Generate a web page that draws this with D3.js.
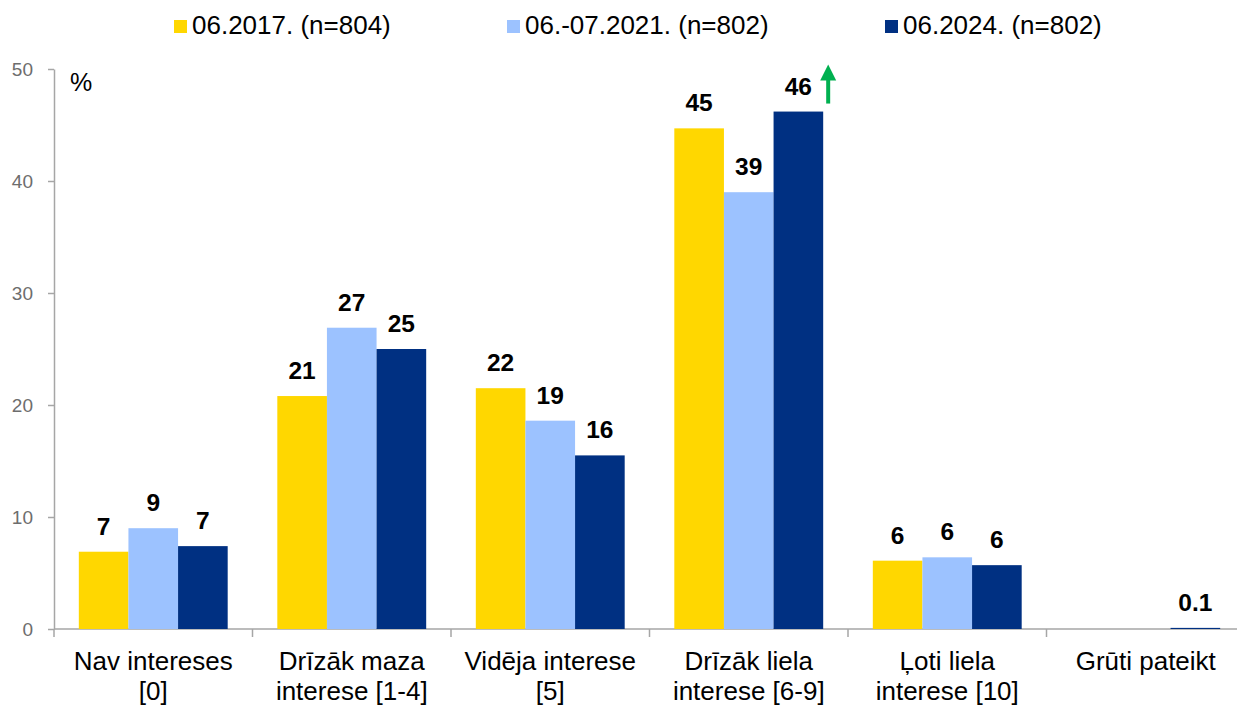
<!DOCTYPE html>
<html>
<head>
<meta charset="utf-8">
<script src="https://cdn.jsdelivr.net/npm/d3@7"></script>
<style>
  body { margin: 0; background: #fff; }
  text { font-family: Arial, "Liberation Sans", sans-serif; }
</style>
</head>
<body>
<div id="chart-area"></div>
<script>
// categories, series and values
var categories = [
    ['Nav intereses', '[0]'],
    ['Drīzāk maza', 'interese [1-4]'],
    ['Vidēja interese', '[5]'],
    ['Drīzāk liela', 'interese [6-9]'],
    ['Ļoti liela', 'interese [10]'],
    ['Grūti pateikt']
];
var seriesNames = ['06.2017. (n=804)', '06.-07.2021. (n=802)', '06.2024. (n=802)'];
var colors = ['#FFD700', '#9CC2FF', '#003082'];
var v2017 = [6.9, 20.8, 21.5, 44.7, 6.1, null];
var v2021 = [9.0, 26.9, 18.6, 39.0, 6.4, null];
var v2024 = [7.4, 25.0, 15.5, 46.2, 5.7, 0.1];
var labels2017 = ['7', '21', '22', '45', '6', ''];
var labels2021 = ['9', '27', '19', '39', '6', ''];
var labels2024 = ['7', '25', '16', '46', '6', '0.1'];
var yTicks = [0, 10, 20, 30, 40, 50];
var upArrowIndex = 3; // significant increase marker on 2024 bar

var series = [
    { name: seriesNames[0], values: v2017, labels: labels2017 },
    { name: seriesNames[1], values: v2021, labels: labels2021 },
    { name: seriesNames[2], values: v2024, labels: labels2024 }
];

var width = 1237, height = 706;

var svg = d3.select('#chart-area').append('svg')
    .attr('width', width)
    .attr('height', height);

var x0 = d3.scaleBand()
    .domain(d3.range(categories.length))
    .range([54, 1245])
    .paddingInner(0.25)
    .paddingOuter(0.125);

var x1 = d3.scaleBand()
    .domain(d3.range(series.length))
    .range([0, x0.bandwidth()]);

var y = d3.scaleLinear()
    .domain([0, 50])
    .range([629, 69]);

// Y axis
var yAxis = svg.append('g')
    .attr('transform', 'translate(54,0)')
    .call(d3.axisLeft(y).tickValues(yTicks).tickSize(6).tickPadding(15).tickSizeOuter(0));
yAxis.select('.domain').attr('stroke', '#a6a6a6').attr('stroke-width', 1.5);
yAxis.selectAll('.tick line').attr('stroke', '#a6a6a6').attr('stroke-width', 1.5);
yAxis.selectAll('.tick text')
    .attr('fill', '#6d6d6d')
    .style('font-size', '19px')
    .attr('dy', '0.35em');

svg.append('text')
    .attr('x', 70)
    .attr('y', 91)
    .style('font-size', '25px')
    .attr('fill', '#000')
    .text('%');

// X axis line and boundary ticks
svg.append('line')
    .attr('x1', 54).attr('x2', 1245)
    .attr('y1', y(0)).attr('y2', y(0))
    .attr('stroke', '#a6a6a6').attr('stroke-width', 1.5);

var step = x0.step();
svg.selectAll('.xtick')
    .data(d3.range(categories.length + 1))
    .enter().append('line')
    .attr('class', 'xtick')
    .attr('x1', d => 54 + d * step)
    .attr('x2', d => 54 + d * step)
    .attr('y1', y(0))
    .attr('y2', y(0) + 8)
    .attr('stroke', '#a6a6a6').attr('stroke-width', 1.5);

// Category labels
var catLabels = svg.selectAll('.cat')
    .data(categories)
    .enter().append('text')
    .attr('class', 'cat')
    .attr('text-anchor', 'middle')
    .style('font-size', '26px')
    .attr('fill', '#000');
catLabels.each(function (d, i) {
    var t = d3.select(this);
    d.forEach((line, j) => {
        t.append('tspan')
            .attr('x', x0(i) + x0.bandwidth() / 2)
            .attr('y', 670 + j * 30)
            .text(line);
    });
});

// Bars
var groups = svg.selectAll('.grp')
    .data(series)
    .enter().append('g')
    .attr('class', 'grp');

groups.each(function (s, si) {
    var g = d3.select(this);
    var pts = s.values.map((v, i) => ({ v: v, i: i, label: s.labels[i] }))
        .filter(d => d.v !== null);

    g.selectAll('rect')
        .data(pts)
        .enter().append('rect')
        .attr('x', d => x0(d.i) + x1(si))
        .attr('y', d => y(d.v))
        .attr('width', x1.bandwidth())
        .attr('height', d => Math.max(1, y(0) - y(d.v)))
        .attr('fill', colors[si]);

    g.selectAll('text')
        .data(pts)
        .enter().append('text')
        .attr('x', d => x0(d.i) + x1(si) + x1.bandwidth() / 2)
        .attr('y', d => y(d.v) - 17)
        .attr('text-anchor', 'middle')
        .style('font-size', '24.5px')
        .style('font-weight', 'bold')
        .attr('fill', '#000')
        .text(d => d.label);
});

// green up arrow next to 2024 bar
var ax = x0(upArrowIndex) + x1(2) + x1.bandwidth() + 5;
var aTop = y(v2024[upArrowIndex]) - 47;
var aBottom = y(v2024[upArrowIndex]) - 8;
svg.append('line')
    .attr('x1', ax).attr('x2', ax)
    .attr('y1', aTop + 14).attr('y2', aBottom)
    .attr('stroke', '#00B050').attr('stroke-width', 4);
svg.append('path')
    .attr('d', 'M' + (ax - 8) + ',' + (aTop + 16) + 'L' + ax + ',' + aTop + 'L' + (ax + 8) + ',' + (aTop + 16) + 'Z')
    .attr('fill', '#00B050');

// Legend
var legendX = [174, 507, 885];
var legend = svg.selectAll('.leg')
    .data(series)
    .enter().append('g')
    .attr('class', 'leg')
    .attr('transform', (d, i) => 'translate(' + legendX[i] + ',0)');
legend.append('rect')
    .attr('x', 0).attr('y', 20)
    .attr('width', 13).attr('height', 13)
    .attr('fill', (d, i) => colors[i]);
legend.append('text')
    .attr('x', 18).attr('y', 34)
    .style('font-size', '26px')
    .attr('fill', '#000')
    .text(d => d.name);
</script>
</body>
</html>
